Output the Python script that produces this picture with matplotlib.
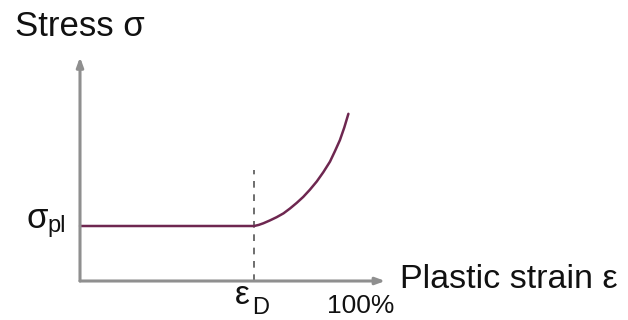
import matplotlib
matplotlib.use("Agg")
import matplotlib.pyplot as plt

plt.rcParams['font.family'] = ['Liberation Sans', 'DejaVu Sans']

# schematic data: strain as fraction (1.0 = 100%), stress in units of sigma_pl
strain = [0.0, 0.30, 0.633, 0.650, 0.667, 0.690, 0.715, 0.740, 0.764, 0.788,
          0.812, 0.836, 0.861, 0.885, 0.909, 0.927, 0.945, 0.961, 0.976]
stress = [1.0, 1.0, 1.0, 1.02, 1.05, 1.10, 1.16, 1.23, 1.32, 1.42,
          1.53, 1.66, 1.81, 1.98, 2.17, 2.36, 2.56, 2.79, 3.04]
eps_d = 0.633
dash_top = 2.02
x_tip = 1.11
y_tip = 4.07

W, H = 628, 320
fig = plt.figure(figsize=(W / 100, H / 100), dpi=100)
ax = fig.add_axes([0, 0, 1, 1])
# 1 strain unit = 275 px, 1 sigma_pl = 55 px, origin at pixel (80, 281)
ax.set_xlim(-80 / 275, (W - 80) / 275)
ax.set_ylim(-(H - 281) / 55, 281 / 55)
ax.axis('off')

axis_col = '#8f8f8f'
arrow = dict(arrowstyle='-|>,head_length=0.55,head_width=0.2', color=axis_col, lw=2.2,
             shrinkA=0, shrinkB=0)
ax.annotate('', xy=(x_tip, 0), xytext=(0, 0), arrowprops=arrow)
ax.annotate('', xy=(0, y_tip), xytext=(0, 0), arrowprops=arrow)

# dashed line at eps_D
ax.plot([eps_d, eps_d], [0, dash_top], ls=(0, (4, 4)), color='#555555', lw=1.2)

# curve: flat plateau then densification
ax.plot(strain, stress, color='#6e2750', lw=1.8, solid_capstyle='round', solid_joinstyle='round')


def px(x, y):
    return x / W, 1 - y / H


col = '#111111'
fig.text(*px(15, 26), 'Stress σ', fontsize=25, color=col, ha='left', va='center')
fig.text(*px(400, 280), 'Plastic strain ε', fontsize=24.5, color=col, ha='left', va='center')
fig.text(*px(26, 228), 'σ', fontsize=25, color=col, ha='left', va='baseline')
fig.text(*px(47, 232), 'pl', fontsize=17, color=col, ha='left', va='baseline')
fig.text(*px(235, 304), 'ε', fontsize=24, color=col, ha='left', va='baseline')
fig.text(*px(252, 314), 'D', fontsize=17, color=col, ha='left', va='baseline')
fig.text(*px(361, 306), '100%', fontsize=19, color=col, ha='center', va='center')

fig.savefig('out.png', dpi=100)
